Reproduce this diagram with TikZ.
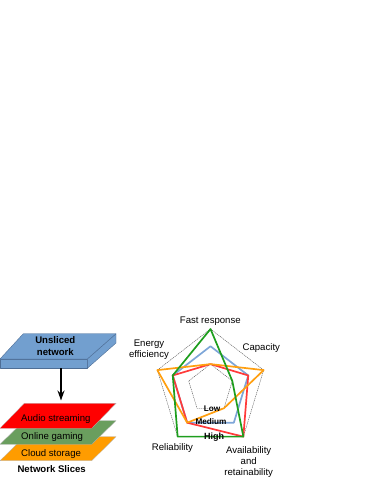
\documentclass[tikz,border=0pt]{standalone}
\usepackage{fontspec}
\setmainfont{Liberation Sans}
\usetikzlibrary{arrows.meta,calc}
\definecolor{boxblue}{HTML}{729FCF}
\definecolor{boxedge}{HTML}{4E6E96}
\definecolor{slred}{HTML}{FF0000}
\definecolor{slgreen}{HTML}{6A9E5E}
\definecolor{slorange}{HTML}{FF9C00}
\definecolor{sgreen}{HTML}{1E9E1E}
\definecolor{sblue}{HTML}{7EA6D8}
\definecolor{sred}{HTML}{FF3A3A}
\definecolor{sorange}{HTML}{FF9F10}
\tikzset{
  lbl/.style={font=\fontsize{9.6}{11}\selectfont, inner sep=0pt, align=center},
  bl/.style={font=\fontsize{9.6}{12}\selectfont\bfseries, inner sep=0pt, align=center},
  lvl/.style={font=\fontsize{8.2}{9}\selectfont\bfseries, inner sep=0pt},
  grid/.style={draw=black!70, line width=0.4pt, dash pattern=on 1.2pt off 0.8pt},
  series/.style={line width=1.7pt, line join=round},
  slicebox/.style={draw=black!30, line width=0.3pt},
  face/.style={fill=boxblue, draw=boxedge, line width=0.4pt, line join=round}
}
\begin{document}
\begin{tikzpicture}[x=1pt,y=-1pt]
\useasboundingbox (0,0) rectangle (374,484);
% ---- unsliced network box ----
\draw[face] (0,359) -- (87.3,359) -- (87.3,368.3) -- (0,368.3) -- cycle;
\draw[face] (87.3,359) -- (116,333.7) -- (116,343) -- (87.3,368.3) -- cycle;
\draw[face] (0,359) -- (23.3,333.7) -- (116,333.7) -- (87.3,359) -- cycle;
\node[bl] (unsliced) at (55.3,345.7) {Unsliced\\network};
\coordinate (boxbot) at (61,368.3);
% ---- slices ----
\draw[slicebox, fill=slorange] (0,460.7) -- (91.7,460.7) -- (116,436.7) -- (24.3,436.7) -- cycle;
\node[lbl, anchor=west] (cloud) at (21,454) {Cloud storage};
\draw[slicebox, fill=slgreen] (0,444.3) -- (91.7,444.3) -- (116,420.7) -- (24.3,420.7) -- cycle;
\node[lbl, anchor=west] (gaming) at (21,436.7) {Online gaming};
\draw[slicebox, fill=slred] (0,428.3) -- (91.7,428.3) -- (116,403.3) -- (24.3,403.3) -- cycle;
\node[lbl, anchor=west] (audio) at (21,419) {Audio streaming};
\coordinate (slicetop) at (61,400.5);
\node[bl] (slices) at (51.7,469) {Network Slices};
\draw[line width=1.4pt, -{Stealth[length=10pt,width=7pt]}] (boxbot) -- (slicetop);
% ---- radar chart ----
\foreach \k in {0,...,4} {
  \foreach \n/\f in {L/0.41, M/0.71, H/1} {
    \coordinate (a\k\n) at ({210.5 + \f*55.9*sin(72*\k)}, {388.5 - \f*59.5*cos(72*\k)});
  }
}
\draw[grid] (a0H) -- (a1H) -- (a2H) -- (a3H) -- (a4H) -- cycle;
\draw[grid] (a0L) -- (a1L) -- (a2L) -- (a3L) -- (a4L) -- cycle;
\draw[series, draw=sblue] (a0M) -- (a1M) -- (a2M) -- (a3M) -- (a4M) -- cycle;
\draw[series, draw=sred] (a0L) -- (a1M) -- (a2H) -- (a3M) -- (a4M) -- cycle;
\draw[series, draw=sorange] (a0L) -- (a1H) -- (a2L) -- (a3M) -- (a4H) -- cycle;
\draw[series, draw=sgreen] (a0H) -- (a1L) -- (a2H) -- (a3H) -- (a4M) -- cycle;
\node[lvl] (low) at (212,408.5) {Low};
\node[lvl] (medium) at (211,421.5) {Medium};
\node[lvl, font=\fontsize{9}{10}\selectfont\bfseries] (high) at (214,436.7) {High};
\node[lbl] (fast) at (210.3,320.7) {Fast response};
\node[lbl] (capacity) at (261.3,347.7) {Capacity};
\node[lbl] (energy) at (149,349.2) {Energy\\efficiency};
\node[lbl] (reliab) at (172.5,448.3) {Reliability};
\node[lbl] (avail) at (248.7,461.7) {Availability\\and\\retainability};
\end{tikzpicture}
\end{document}
